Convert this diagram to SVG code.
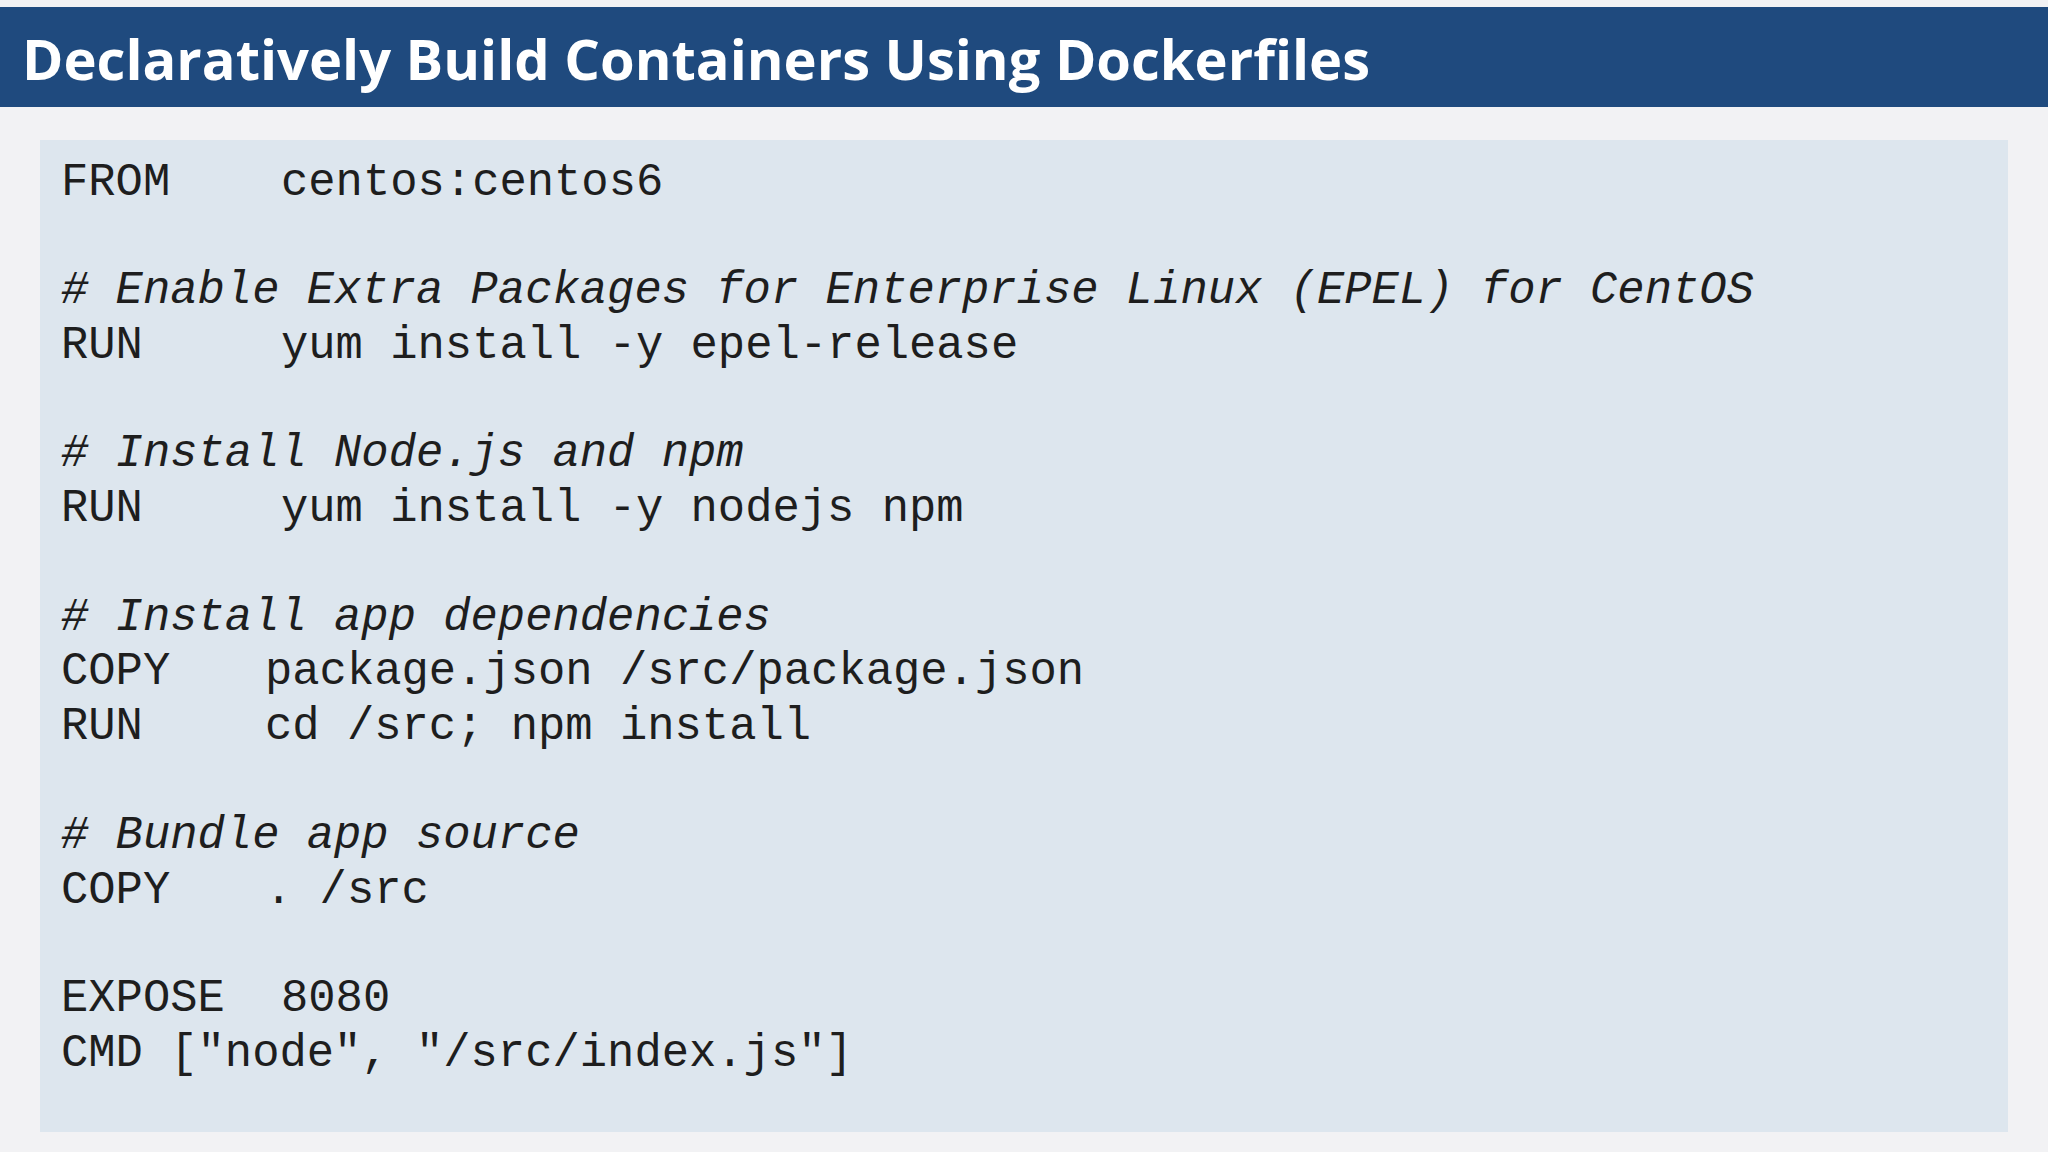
<svg xmlns="http://www.w3.org/2000/svg" width="2048" height="1152" viewBox="0 0 2048 1152">
<style>
.c{font-family:"Liberation Mono","Courier New",monospace;font-size:45.5px;fill:#1e1e1e}
.i{font-style:italic}
</style>
<rect width="2048" height="1152" fill="#f2f2f4"/>
<g id="title"><rect x="0" y="7" width="2048" height="100" fill="#1f4a7e"/>
<text x="22" y="80" font-family="'Open Sans','Noto Sans',sans-serif" font-weight="bold" font-size="56" fill="#ffffff" textLength="1348" lengthAdjust="spacingAndGlyphs">Declaratively Build Containers Using Dockerfiles</text></g>
<g id="code"><rect x="40" y="140" width="1968" height="992" fill="#dde6ee"/>
<g transform="translate(0,4)">
<text class="c" x="61" y="191">FROM</text><text class="c" x="281" y="191">centos:centos6</text>
<text class="c i" x="61" y="299"># Enable Extra Packages for Enterprise Linux (EPEL) for CentOS</text>
<text class="c" x="61" y="354">RUN</text><text class="c" x="281" y="354">yum install -y epel-release</text>
<text class="c i" x="61" y="462"># Install Node.js and npm</text>
<text class="c" x="61" y="517">RUN</text><text class="c" x="281" y="517">yum install -y nodejs npm</text>
<text class="c i" x="61" y="626"># Install app dependencies</text>
<text class="c" x="61" y="680">COPY</text><text class="c" x="265" y="680">package.json /src/package.json</text>
<text class="c" x="61" y="735">RUN</text><text class="c" x="265" y="735">cd /src; npm install</text>
<text class="c i" x="61" y="844"># Bundle app source</text>
<text class="c" x="61" y="899">COPY</text><text class="c" x="265" y="899">. /src</text>
<text class="c" x="61" y="1007">EXPOSE</text><text class="c" x="281" y="1007">8080</text>
<text class="c" x="61" y="1062">CMD ["node", "/src/index.js"]</text>
</g>
</g>
</svg>
